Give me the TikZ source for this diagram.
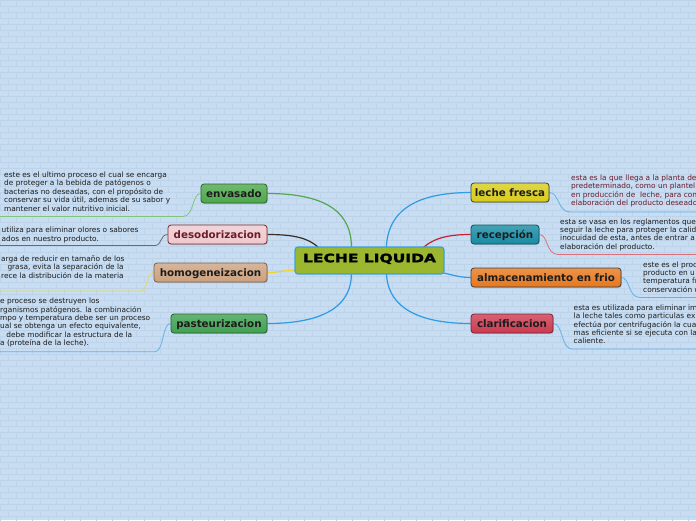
\documentclass[tikz,border=0pt]{standalone}
\usepackage{fontspec}
\setmainfont{DejaVu Sans}
\newfontfamily\heavy{DejaVu Sans Bold}[FakeBold=2.5,FakeStretch=1.35]
\newfontfamily\boldlab{DejaVu Sans Bold}
\usetikzlibrary{shadows,calc}
\pgfdeclarelayer{background}
\pgfdeclarelayer{edges}
\pgfsetlayers{background,edges,main}
\definecolor{bgc}{HTML}{C8DDF1}
\definecolor{brickc}{HTML}{BCD3EA}
\definecolor{txt}{HTML}{1C1C1C}
\definecolor{txtred}{HTML}{6B1B2B}
\definecolor{cgreen}{HTML}{9BB62F}
\definecolor{cblue}{HTML}{3AA0E0}
\definecolor{fenv}{HTML}{4CA84A}
\definecolor{fdes}{HTML}{EEC9CD}
\definecolor{fhom}{HTML}{CCA280}
\definecolor{fpas}{HTML}{3FA152}
\definecolor{flec}{HTML}{D7CC1A}
\definecolor{frec}{HTML}{178BA3}
\definecolor{falm}{HTML}{E6781E}
\definecolor{fcla}{HTML}{CC3A50}
\definecolor{lgreen}{HTML}{52A84C}
\definecolor{ldark}{HTML}{3B2B22}
\definecolor{lyellow}{HTML}{F2D22A}
\definecolor{lblue}{HTML}{2E9BE3}
\definecolor{lred}{HTML}{C8202E}
\definecolor{agreen}{HTML}{80C57C}
\definecolor{agray}{HTML}{6B6B6B}
\definecolor{ayellow}{HTML}{E8D860}
\definecolor{ablue}{HTML}{62B2E8}
\definecolor{apink}{HTML}{D9707C}
\tikzset{
  topic/.style={draw=#1!60!black, top color=#1!80!white, bottom color=#1,
    rounded corners=3pt, line width=0.8pt, inner sep=0pt, minimum height=19pt,
    font=\boldlab\fontsize{10.3}{12}\selectfont, text=txt,
    text height=9.6pt, text depth=2pt,
    drop shadow={opacity=0.35, shadow xshift=0.8pt, shadow yshift=-1pt}},
  anno/.style={font=\fontsize{7.4}{8.4}\selectfont, align=left, inner sep=0pt, text=txt, anchor=base west},
  mainedge/.style={line width=1.2pt},
  annoedge/.style={line width=0.8pt}
}
\begin{document}
\begin{tikzpicture}[x=1pt,y=-1pt]
\useasboundingbox (0,0) rectangle (696,520);
\begin{pgfonlayer}{background}
\fill[bgc] (0,0) rectangle (696,520);
\foreach \r in {0,...,86}{
  \draw[brickc, line width=0.4pt] (0,\r*6) -- (696,\r*6);
  \pgfmathsetmacro\off{mod(\r,2)*8}
  \foreach \c in {0,...,44}{
    \draw[brickc, line width=0.4pt] (\c*16+\off,\r*6) -- ++(0,6);
  }
}
\end{pgfonlayer}
\clip (0,0) rectangle (696,520);

% central node
\node[draw=cblue, fill=cgreen, line width=1.2pt, rounded corners=3pt,
  minimum width=149pt, minimum height=27pt, inner sep=0pt,
  font=\heavy\fontsize{11.5}{13}\selectfont, text height=8.4pt, text depth=5pt]
  (c) at (369.5,260.5) {LECHE LIQUIDA};

% topics
\node[topic=fenv, minimum width=66pt] (env) at (234,193.5) {envasado};
\node[topic=fdes, minimum width=99pt, text=txtred, draw=fdes!30!black!70!red] (des) at (217.5,234.5) {desodorizacion};
\node[topic=fhom, minimum width=113pt] (hom) at (210.5,272.5) {homogeneizacion};
\node[topic=fpas, minimum width=96pt] (pas) at (219,323.5) {pasteurizacion};
\node[topic=flec, minimum width=78pt, draw=black!75] (lec) at (510,192.5) {leche fresca};
\node[topic=frec, minimum width=68pt] (rec) at (505,234.5) {recepción};
\node[topic=falm, minimum width=150pt, draw=black!75] (alm) at (546,277.5) {almacenamiento en frio};
\node[topic=fcla, minimum width=82pt] (cla) at (512,323.5) {clarificacion};

% annotations (anchored at the baseline of their last line)
\node[anno] (tenv) at (4,211.1) {este es el ultimo proceso el cual se encarga\\de proteger a la bebida de patógenos o\\bacterias no deseadas, con el propósito de\\conservar su vida útil, ademas de su sabor y\\mantener el valor nutritivo inicial.};
\node[anno] (tdes) at (1.5,241.1) {utiliza para eliminar olores o sabores\\ados en nuestro producto.};
\node[anno] (thom) at (1,278.1) {arga de reducir en tamaño de los\\\hspace*{6.3pt}grasa, evita la separación de la\\rece la distribución de la materia};
\node[anno] (tpas) at (0,345.7) {e proceso se destruyen los\\rganismos patógenos. la combinación\\mpo y temperatura debe ser un proceso\\ual se obtenga un efecto equivalente,\\\hspace*{6.3pt}debe modificar la estructura de la\\a (proteína de la leche).};
\node[anno, text=txtred] (tlec) at (571,205.7) {esta es la que llega a la planta de\\predeterminado, como un plantel\\en producción de\ \ leche, para con\\elaboración del producto deseado};
\node[anno] (trec) at (560,249.2) {esta se vasa en los reglamentos que\\seguir la leche para proteger la calid\\inocuidad de esta, antes de entrar a\\elaboración del producto.};
\node[anno] (talm) at (643,292.2) {este es el proc\\producto en u\\temperatura fr\\conservación d};
\node[anno] (tcla) at (573.5,343.9) {esta es utilizada para eliminar im\\la leche tales como particulas ex\\efectúa por centrifugación la cua\\mas eficiente si se ejecuta con la\\caliente.};

% free ends of annotation underlines
\coordinate (eenv) at (0,216.5);
\coordinate (edes) at (0,245.5);
\coordinate (ehom) at (0,291);
\coordinate (epas) at (0,351.7);
\coordinate (elec) at (696,212);
\coordinate (erec) at (696,254.5);
\coordinate (ealm) at (696,297.5);
\coordinate (ecla) at (696,349);

\begin{pgfonlayer}{edges}
% main connectors
\draw[mainedge, lgreen] (env.east) .. controls (330,193.5) and (352,215) .. ($(c.north west)+(57,2)$);
\draw[mainedge, ldark] (des.east) .. controls (295,234.5) and (310,238) .. ($(c.north west)+(27,4)$);
\draw[mainedge, lyellow] (hom.east) .. controls (280,272.5) and (285,270) .. ($(c.west)+(2,10)$);
\draw[mainedge, lblue] (pas.east) .. controls (330,323.5) and (352,302) .. ($(c.south west)+(57,-2)$);
\draw[mainedge, lblue] (lec.west) .. controls (410,192.5) and (387,215) .. ($(c.north west)+(92,2)$);
\draw[mainedge, lred] (rec.west) .. controls (448,234.5) and (432,238) .. ($(c.north west)+(126,4)$);
\draw[mainedge, lblue] (alm.west) .. controls (458,277.5) and (450,274) .. ($(c.south east)+(-3,-2)$);
\draw[mainedge, lblue] (cla.west) .. controls (410,323.5) and (387,302) .. ($(c.south west)+(92,-2)$);
% annotation connectors
\draw[annoedge, agreen] (env.west) .. controls (192,193.5) and (194,216.5) .. (183,216.5) -- (eenv);
\draw[annoedge, agray] (des.west) .. controls (160,234.5) and (162,245.5) .. (155,245.5) -- (edes);
\draw[annoedge, ayellow] (hom.west) .. controls (146,272.5) and (148,291) .. (140,291) -- (ehom);
\draw[annoedge, ablue] (pas.west) .. controls (162,323.5) and (164,351.7) .. (155,351.7) -- (epas);
\draw[annoedge, ablue] (lec.east) .. controls (559,192.5) and (558,212) .. (570,212) -- (elec);
\draw[annoedge, apink] (rec.east) .. controls (548,234.5) and (546,254.5) .. (558,254.5) -- (erec);
\draw[annoedge, ablue] (alm.east) .. controls (630,277.5) and (628,297.5) .. (640,297.5) -- (ealm);
\draw[annoedge, ablue] (cla.east) .. controls (563,323.5) and (561,349) .. (572,349) -- (ecla);
\end{pgfonlayer}
\end{tikzpicture}
\end{document}
